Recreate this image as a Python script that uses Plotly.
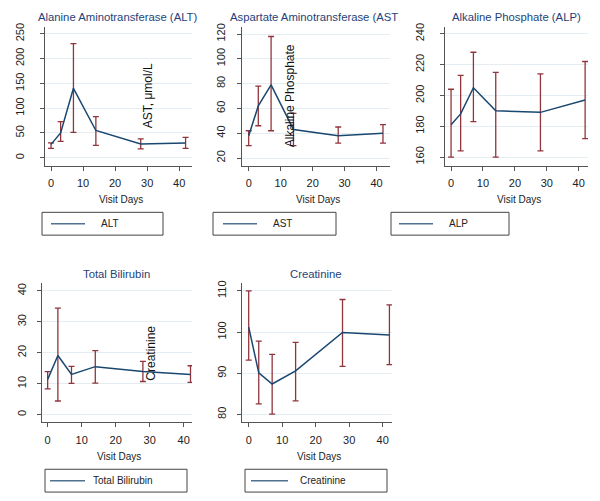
import plotly.graph_objects as go

# ---------------- data ----------------
days = [0, 3, 7, 14, 28, 42]

alt_mean = [27, 50, 140, 55, 28, 30]
alt_lo = [19, 33, 51, 25, 18, 19]
alt_hi = [30, 73, 230, 83, 38, 41]

ast_mean = [38, 62, 79, 43, 38, 40]
ast_lo = [30, 46, 42, 30, 32, 32]
ast_hi = [42, 78, 118, 56, 45, 47]

alp_mean = [181, 188, 205, 190, 189, 197]
alp_lo = [160, 164, 183, 160, 164, 172]
alp_hi = [204, 213, 228, 215, 214, 222]

bili_mean = [11.4, 19.1, 13.0, 15.5, 13.9, 13.0]
bili_lo = [8.3, 4.4, 10.1, 10.2, 10.7, 10.4]
bili_hi = [13.9, 34.4, 15.6, 20.7, 17.2, 15.8]

creat_mean = [101.2, 90.1, 87.4, 90.6, 99.9, 99.3]
creat_lo = [93.2, 82.6, 80.1, 83.3, 91.7, 92.1]
creat_hi = [110, 97.8, 94.6, 97.5, 107.9, 106.6]

x_ticks = [0, 10, 20, 30, 40]
alt_ticks = [0, 50, 100, 150, 200, 250]
ast_ticks = [20, 40, 60, 80, 100, 120]
alp_ticks = [160, 180, 200, 220, 240]
bili_ticks = [0, 10, 20, 30, 40]
creat_ticks = [80, 90, 100, 110]

titles = ["Alanine Aminotransferase (ALT)", "Aspartate Aminotransferase (AST",
          "Alkaline Phosphate (ALP)", "Total Bilirubin", "Creatinine"]
legend_names = ["ALT", "AST", "ALP", "Total Bilirubin", "Creatinine"]
stray_titles = ["AST, \u03bcmol/L", "Alkaline Phosphate", "Creatinine"]
x_title = "Visit Days"

# ---------------- styling ----------------
W, H = 600, 501
LINE = "#1a476f"
ERR = "#90353b"
GRID = "#e4edf1"
AXIS = "#555555"
TITLE_C = "#263f7a"
FONT = "Liberation Sans, Arial, sans-serif"


def px_x(v):
    return v / W


def px_y(v):
    return 1 - v / H


panels = [
    dict(xd=(45, 192), yd=(23, 163), xr=[-1.875, 44], yr=[-16, 264], yt=alt_ticks, so=12,
         mean=alt_mean, lo=alt_lo, hi=alt_hi),
    dict(xd=(241.7, 390), yd=(23, 163), xr=[-2.19, 44.2], yr=[13.8, 125.8], yt=ast_ticks, so=7,
         mean=ast_mean, lo=ast_lo, hi=ast_hi),
    dict(xd=(445, 588), yd=(23, 163), xr=[-1.9, 42.9], yr=[154.4, 244.5], yt=alp_ticks, so=12,
         mean=alp_mean, lo=alp_lo, hi=alp_hi),
    dict(xd=(41.7, 192), yd=(281.7, 421.7), xr=[-1.76, 42.44], yr=[-2.5, 42.4], yt=bili_ticks, so=6,
         mean=bili_mean, lo=bili_lo, hi=bili_hi),
    dict(xd=(241.7, 392), yd=(281.7, 421.7), xr=[-2.09, 42.77], yr=[78.1, 111.8], yt=creat_ticks, so=6,
         mean=creat_mean, lo=creat_lo, hi=creat_hi),
]

fig = go.Figure()
layout = dict(
    width=W, height=H, margin=dict(l=0, r=0, t=0, b=0),
    paper_bgcolor="white", plot_bgcolor="white", showlegend=False,
    font=dict(family=FONT, size=11, color="#222222"),
)

for i, p in enumerate(panels):
    n = "" if i == 0 else str(i + 1)
    xa, ya = "x" + n, "y" + n
    fig.add_trace(go.Scatter(
        x=days, y=p["mean"], xaxis=xa, yaxis=ya, mode="lines",
        name=legend_names[i],
        line=dict(color=LINE, width=1.5),
        error_y=dict(type="data", symmetric=False,
                     array=[h - m for h, m in zip(p["hi"], p["mean"])],
                     arrayminus=[m - l for m, l in zip(p["mean"], p["lo"])],
                     color=ERR, thickness=1.3, width=3),
    ))
    layout["xaxis" + n] = dict(
        domain=[px_x(p["xd"][0]), px_x(p["xd"][1])], anchor=ya, range=p["xr"],
        tickvals=x_ticks, ticks="outside", ticklen=4, tickcolor=AXIS,
        showline=True, linecolor=AXIS, linewidth=1, showgrid=False, zeroline=False,
        tickfont=dict(size=11), ticklabelstandoff=3,
    )
    layout["yaxis" + n] = dict(
        domain=[px_y(p["yd"][1]), px_y(p["yd"][0])], anchor=xa, range=p["yr"],
        tickvals=p["yt"], ticks="outside", ticklen=4, tickcolor=AXIS, tickangle=-90,
        showline=True, linecolor=AXIS, linewidth=1, showgrid=True, gridcolor=GRID,
        gridwidth=1, zeroline=False, tickfont=dict(size=11), ticklabelstandoff=p["so"],
    )

annotations = []
shapes = []

# panel titles
title_pos = [(118, 13, "center"), (228, 13, "left"), (516.5, 13, "center"),
             (116, 272, "center"), (316, 272, "center")]
for t, (x, y, anc) in zip(titles, title_pos):
    annotations.append(dict(text=t, x=px_x(x), y=px_y(y), xref="paper", yref="paper",
                            xanchor=anc, yanchor="middle", showarrow=False,
                            font=dict(size=11.3, color=TITLE_C)))

# x axis titles
for p in panels:
    yb = p["yd"][1]
    annotations.append(dict(text=x_title, x=px_x((p["xd"][0] + p["xd"][1]) / 2 + 2),
                            y=px_y(yb + 34), xref="paper", yref="paper",
                            xanchor="center", yanchor="middle", showarrow=False,
                            font=dict(size=10)))

# stray rotated y-axis titles
stray_pos = [(148, 93), (290, 93), (151.5, 352)]
for t, (x, y) in zip(stray_titles, stray_pos):
    annotations.append(dict(text=t, x=px_x(x), y=px_y(y), xref="paper", yref="paper",
                            xanchor="center", yanchor="middle", showarrow=False,
                            textangle=-90, font=dict(size=12, color="#111111")))

# legend boxes
legend_boxes = [
    (42, 163, 210, 233, 51, 85, 110),
    (213, 336, 210, 233, 223, 257, 282),
    (391, 509, 210, 233, 399, 433, 458),
    (45, 187, 469, 492, 50, 85, 122),
    (245, 387, 469, 492, 251, 288, 323),
]
for name, (bx0, bx1, by0, by1, lx0, lx1, tx) in zip(legend_names, legend_boxes):
    shapes.append(dict(type="rect", xref="paper", yref="paper",
                       x0=px_x(bx0), x1=px_x(bx1), y0=px_y(by1), y1=px_y(by0),
                       line=dict(color="#444444", width=1), fillcolor="white"))
    ym = (by0 + by1) / 2
    shapes.append(dict(type="line", xref="paper", yref="paper",
                       x0=px_x(lx0), x1=px_x(lx1), y0=px_y(ym), y1=px_y(ym),
                       line=dict(color="#4f7192", width=1.5)))
    annotations.append(dict(text=name, x=px_x(tx), y=px_y(ym), xref="paper", yref="paper",
                            xanchor="center", yanchor="middle", showarrow=False,
                            font=dict(size=10)))

layout["annotations"] = annotations
layout["shapes"] = shapes
fig.update_layout(**layout)
fig.write_html(
    "out.html",
    config={"displayModeBar": False},
    post_script="document.body.style.margin='0';document.body.style.padding='0';"
                "document.body.style.overflow='hidden';",
)
